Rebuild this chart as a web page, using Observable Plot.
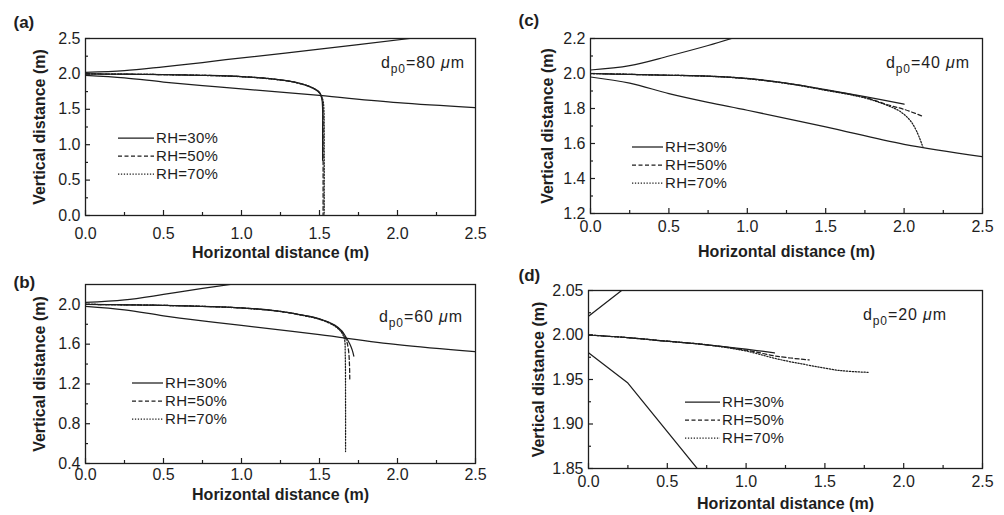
<!DOCTYPE html>
<html><head><meta charset="utf-8">
<script src="https://cdn.jsdelivr.net/npm/d3@7"></script>
<script src="https://cdn.jsdelivr.net/npm/@observablehq/plot@0.6"></script>
<style>
body{margin:0;background:#fff;}
#wrap{position:relative;width:1004px;height:515px;overflow:hidden;background:#fff;}
#wrap > svg{position:absolute;}
</style></head><body><div id="wrap"></div>
<script>
// ---------- shared data ----------
const xTicks = [0, 0.5, 1.0, 1.5, 2.0, 2.5];
const xMinor = [0.25, 0.75, 1.25, 1.75, 2.25];
const rhLabels = ["RH=30%", "RH=50%", "RH=70%"];
const panelLabels = ["(a)", "(b)", "(c)", "(d)"];
const dp0Values = [80, 60, 40, 20];
const xTitle = "Horizontal distance (m)";
const yTitle = "Vertical distance (m)";

// ---------- panel (a) : dp0 = 80 um ----------
const aYTicks = [0.0, 0.5, 1.0, 1.5, 2.0, 2.5];
const aYMinor = [0.25, 0.75, 1.25, 1.75, 2.25];
const aUpper = [[0,2.02],[0.25,2.045],[0.5,2.10],[0.75,2.16],[0.9,2.2],[1.5,2.35],[2.08,2.5]];
const aLower = [[0,1.98],[0.25,1.945],[0.5,1.885],[0.75,1.835],[1.0,1.79],[1.5,1.695],[2.0,1.595],[2.5,1.525]];
const aRH30 = [[0,2.0],[0.25,1.996],[0.5,1.99],[0.75,1.98],[1.0,1.963],[1.2,1.93],[1.35,1.88],[1.45,1.81],[1.5,1.74],[1.515,1.65],[1.52,1.5],[1.52,1.2],[1.52,0.78]];
const aRH50 = [[0,2.0],[0.25,1.996],[0.5,1.99],[0.75,1.98],[1.0,1.962],[1.2,1.928],[1.35,1.878],[1.45,1.808],[1.5,1.735],[1.517,1.64],[1.522,1.5],[1.523,1.0],[1.523,0.0]];
const aRH70 = [[0,2.0],[0.25,1.996],[0.5,1.99],[0.75,1.979],[1.0,1.96],[1.2,1.926],[1.35,1.876],[1.45,1.805],[1.5,1.73],[1.522,1.63],[1.528,1.5],[1.53,1.0],[1.53,0.0]];

// ---------- panel (b) : dp0 = 60 um ----------
const bYTicks = [0.4, 0.8, 1.2, 1.6, 2.0];
const bYMinor = [0.6, 1.0, 1.4, 1.8];
const bUpper = [[0,2.02],[0.25,2.045],[0.5,2.10],[0.75,2.16],[0.93,2.2]];
const bLower = [[0,1.98],[0.25,1.945],[0.5,1.885],[0.75,1.835],[1.0,1.79],[1.5,1.695],[2.0,1.595],[2.5,1.525]];
const bRH30 = [[0,2.0],[0.25,1.996],[0.5,1.99],[0.75,1.98],[1.0,1.965],[1.25,1.93],[1.4,1.89],[1.5,1.855],[1.6,1.79],[1.645,1.73],[1.67,1.67],[1.695,1.6],[1.71,1.54],[1.72,1.48]];
const bRH50 = [[0,2.0],[0.25,1.996],[0.5,1.99],[0.75,1.98],[1.0,1.964],[1.25,1.929],[1.4,1.888],[1.5,1.852],[1.6,1.785],[1.645,1.72],[1.67,1.65],[1.685,1.55],[1.692,1.4],[1.694,1.25]];
const bRH70 = [[0,2.0],[0.25,1.996],[0.5,1.99],[0.75,1.98],[1.0,1.963],[1.25,1.928],[1.4,1.886],[1.5,1.85],[1.6,1.78],[1.64,1.72],[1.66,1.65],[1.665,1.5],[1.667,1.0],[1.667,0.52]];

// ---------- panel (c) : dp0 = 40 um ----------
const cYTicks = [1.2, 1.4, 1.6, 1.8, 2.0, 2.2];
const cYMinor = [1.3, 1.5, 1.7, 1.9, 2.1];
const cUpper = [[0,2.02],[0.25,2.045],[0.5,2.10],[0.75,2.16],[0.9,2.2]];
const cLower = [[0,1.98],[0.25,1.945],[0.5,1.885],[0.75,1.835],[1.0,1.79],[1.5,1.695],[2.0,1.595],[2.5,1.525]];
const cRH30 = [[0,2.0],[0.25,1.995],[0.5,1.99],[0.75,1.985],[1.0,1.972],[1.25,1.945],[1.5,1.908],[1.75,1.868],[2.0,1.825]];
const cRH50 = [[0,2.0],[0.25,1.995],[0.5,1.99],[0.75,1.985],[1.0,1.971],[1.25,1.944],[1.5,1.906],[1.75,1.863],[1.9,1.82],[2.0,1.795],[2.12,1.755]];
const cRH70 = [[0,2.0],[0.25,1.995],[0.5,1.99],[0.75,1.984],[1.0,1.97],[1.25,1.943],[1.5,1.904],[1.75,1.86],[1.9,1.815],[1.98,1.78],[2.04,1.73],[2.08,1.67],[2.12,1.58]];

// ---------- panel (d) : dp0 = 20 um ----------
const dYTicks = [1.85, 1.90, 1.95, 2.00, 2.05];
const dYMinor = [1.875, 1.925, 1.975, 2.025];
const dUpper = [[0,2.021],[0.21,2.05]];
const dLower = [[0,1.98],[0.25,1.946],[0.69,1.85]];
const dRH30 = [[0,2.0],[0.25,1.997],[0.5,1.993],[0.75,1.989],[1.0,1.984],[1.18,1.98]];
const dRH50 = [[0,2.0],[0.25,1.997],[0.5,1.993],[0.75,1.989],[1.0,1.983],[1.2,1.976],[1.4,1.972]];
const dRH70 = [[0,2.0],[0.25,1.997],[0.5,1.993],[0.75,1.989],[1.0,1.982],[1.2,1.973],[1.4,1.966],[1.6,1.96],[1.78,1.958]];

// ---------- styles ----------
const INK = "#1e1e1e";
const dashes = [null, "4,2.5", "1.3,1.6"];
const FONT = "'Liberation Sans', Arial, Helvetica, sans-serif";

function panel(cfg) {
  const fw = cfg.width - cfg.ml - cfg.mr, fh = cfg.height - cfg.mt - cfg.mb;
  const line = (data, dash, curve) => Plot.line(data, {
    x: d => d[0], y: d => d[1], stroke: INK, strokeWidth: 1.25,
    strokeDasharray: dash, curve: curve || "catmull-rom", clip: true
  });
  const legend = (index, scales, values, dims) => {
    const g = d3.create("svg:g")
      .attr("transform", `translate(${dims.marginLeft + cfg.legX},${dims.marginTop + cfg.legY})`)
      .attr("font-size", 15).attr("fill", INK).attr("text-anchor", "start");
    rhLabels.forEach((t, i) => {
      g.append("line").attr("x1", 0).attr("x2", cfg.legW).attr("y1", i * 18).attr("y2", i * 18)
        .attr("stroke", INK).attr("stroke-width", 1.25).attr("stroke-dasharray", dashes[i]);
      g.append("text").attr("x", cfg.legW + 2).attr("y", i * 18).attr("dy", "0.35em")
        .attr("text-anchor", "start").attr("letter-spacing", "0.3px").text(t);
    });
    return g.node();
  };
  const annot = (index, scales, values, dims) => {
    const t = d3.create("svg:text")
      .attr("x", dims.width - dims.marginRight - cfg.annR)
      .attr("y", dims.marginTop + cfg.annY)
      .attr("text-anchor", "end").attr("font-size", 16).attr("letter-spacing", "0.9px").attr("fill", INK);
    t.append("tspan").text("d");
    t.append("tspan").attr("dy", 5).attr("font-size", 12).text("p0");
    t.append("tspan").attr("dy", -5).text("=" + cfg.dp + " ");
    t.append("tspan").attr("font-style", "italic").text("\u03bc");
    t.append("tspan").text("m");
    return t.node();
  };
  const svg = Plot.plot({
    width: cfg.width, height: cfg.height,
    marginTop: cfg.mt, marginRight: cfg.mr, marginBottom: cfg.mb, marginLeft: cfg.ml,
    style: {fontFamily: FONT, fontSize: "16px", color: INK, background: "transparent", overflow: "visible"},
    x: {domain: [0, 2.5]},
    y: {domain: cfg.yDomain},
    marks: [
      line(cfg.upper, null, cfg.bCurve),
      line(cfg.lower, null, cfg.bCurve),
      line(cfg.rh[0], dashes[0]),
      line(cfg.rh[1], dashes[1]),
      line(cfg.rh[2], dashes[2]),
      Plot.tickX(xTicks, {x: d => d, insetTop: fh - 5, stroke: INK, strokeWidth: 1.2}),
      Plot.tickX(xMinor, {x: d => d, insetTop: fh - 3, stroke: INK, strokeWidth: 1.2}),
      Plot.tickY(cfg.yTicks, {y: d => d, insetRight: fw - 5, stroke: INK, strokeWidth: 1.2}),
      Plot.tickY(cfg.yMinor, {y: d => d, insetRight: fw - 3, stroke: INK, strokeWidth: 1.2}),
      Plot.frame({stroke: INK, strokeWidth: 1.3}),
      Plot.axisX(xTicks, {tickSize: 0, tickPadding: cfg.xGap, tickFormat: d3.format(".1f"), label: null, fontSize: 16, letterSpacing: "0.5px"}),
      Plot.axisY(cfg.yTicks, {tickSize: 0, tickPadding: 5, tickFormat: d3.format(cfg.yFmt), label: null, fontSize: 16, letterSpacing: "0.5px"}),
      Plot.text([xTitle], {text: d => d, frameAnchor: "bottom", dy: cfg.titleGap, textAnchor: "middle", lineAnchor: "top", fontWeight: "bold", fontSize: 16, letterSpacing: "0.5px"}),
      Plot.text([yTitle], {text: d => d, frameAnchor: "left", dx: -cfg.yTitleOff, rotate: -90, textAnchor: "middle", lineAnchor: "middle", fontWeight: "bold", fontSize: 16}),
      Plot.text([cfg.label], {text: d => d, frameAnchor: "top-left", dx: cfg.labDx, dy: cfg.labDy, textAnchor: "start", lineAnchor: "top", fontWeight: "bold", fontSize: 17}),
      legend,
      annot
    ]
  });
  svg.style.left = cfg.left + "px";
  svg.style.top = cfg.top + "px";
  document.getElementById("wrap").appendChild(svg);
}

panel({label: panelLabels[0], dp: dp0Values[0], left: 0, top: 0, width: 500, height: 257,
  mt: 38, mr: 25, mb: 42, ml: 85, yDomain: [0, 2.5], yTicks: aYTicks, yMinor: aYMinor, yFmt: ".1f",
  upper: aUpper, lower: aLower, rh: [aRH30, aRH50, aRH70],
  xGap: 12, titleGap: 31, yTitleOff: 46, legX: 33, legY: 100, legW: 36, annR: 10, annY: 30, labDx: -72, labDy: -23});

panel({label: panelLabels[1], dp: dp0Values[1], left: 0, top: 257, width: 500, height: 258,
  mt: 27, mr: 25, mb: 52, ml: 85, yDomain: [0.4, 2.2], yTicks: bYTicks, yMinor: bYMinor, yFmt: ".1f",
  upper: bUpper, lower: bLower, rh: [bRH30, bRH50, bRH70],
  xGap: 5, titleGap: 25, yTitleOff: 46, legX: 47, legY: 99, legW: 31, annR: 12, annY: 38, labDx: -72, labDy: -9});

panel({label: panelLabels[2], dp: dp0Values[2], left: 500, top: 0, width: 504, height: 257,
  mt: 38, mr: 22, mb: 44, ml: 90, yDomain: [1.2, 2.2], yTicks: cYTicks, yMinor: cYMinor, yFmt: ".1f",
  upper: cUpper, lower: cLower, rh: [cRH30, cRH50, cRH70],
  xGap: 7, titleGap: 32, yTitleOff: 43, legX: 42, legY: 109, legW: 31, annR: 12, annY: 30, labDx: -72, labDy: -25});

panel({label: panelLabels[3], dp: dp0Values[3], left: 500, top: 257, width: 504, height: 258,
  mt: 33, mr: 22, mb: 47, ml: 88, yDomain: [1.85, 2.05], yTicks: dYTicks, yMinor: dYMinor, yFmt: ".2f",
  upper: dUpper, lower: dLower, rh: [dRH30, dRH50, dRH70], bCurve: "linear",
  xGap: 7, titleGap: 29, yTitleOff: 50, legX: 97, legY: 112, legW: 35, annR: 35, annY: 30, labDx: -70, labDy: -22});
</script></body></html>
